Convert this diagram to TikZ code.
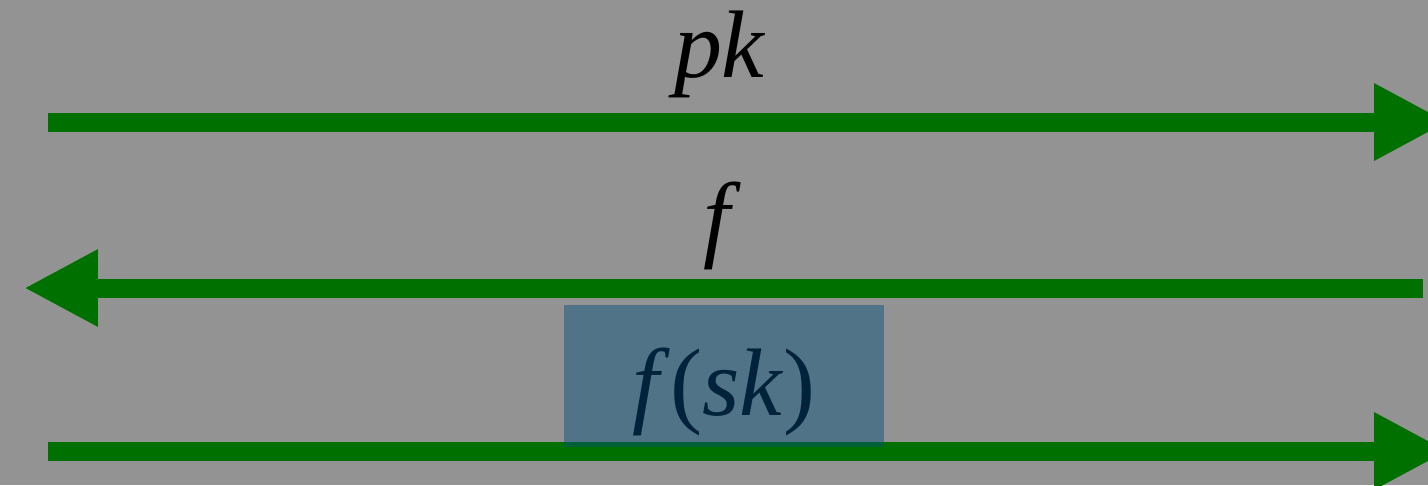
\documentclass[tikz,border=0pt]{standalone}
\usepackage{fontspec}
\setmainfont{Liberation Serif}
\usetikzlibrary{arrows.meta}
\definecolor{cbg}{HTML}{939393}
\definecolor{cgreen}{HTML}{007000}
\definecolor{cblue}{HTML}{004E7C}
\definecolor{cnavy}{HTML}{00223A}
\tikzset{
  wire/.style={-{Triangle[length=1.48cm, width=1.44cm]}, draw=cgreen, line width=0.38cm},
  lbl/.style={font=\fontsize{54.6}{60}\selectfont, inner sep=0pt, anchor=base},
  keybox/.style={fill=cblue, fill opacity=0.45, text opacity=1, text=cnavy, inner sep=0pt,
    minimum width=6.4cm, text height=2.2cm, text depth=0.64cm},
}
\begin{document}
\begin{tikzpicture}[x=0.02cm, y=-0.02cm]
  \clip (0,0) rectangle (1428,485);
  \fill[cbg] (0,0) rectangle (1428,485);
  % end points of the three wires
  \coordinate (pkL) at (48,122);   \coordinate (pkR) at (1448,122);
  \coordinate (fR) at (1423,288);  \coordinate (fL) at (24,288);
  \coordinate (skL) at (48,451);   \coordinate (skR) at (1448,451);
  % pk goes right, f comes back
  \draw[wire] (pkL) -- (pkR);
  \node[lbl] (pk) at (720,77) {\textit{pk}};
  \draw[wire] (fR) -- (fL);
  \node[lbl] (f) at (722,249) {\textit{f}};
  % f(sk) goes right, under the box
  \draw[wire] (skL) -- (skR);
  \node[lbl, keybox] (fsk) at (724,415) {\textit{f}(\textit{sk})};
\end{tikzpicture}
\end{document}
